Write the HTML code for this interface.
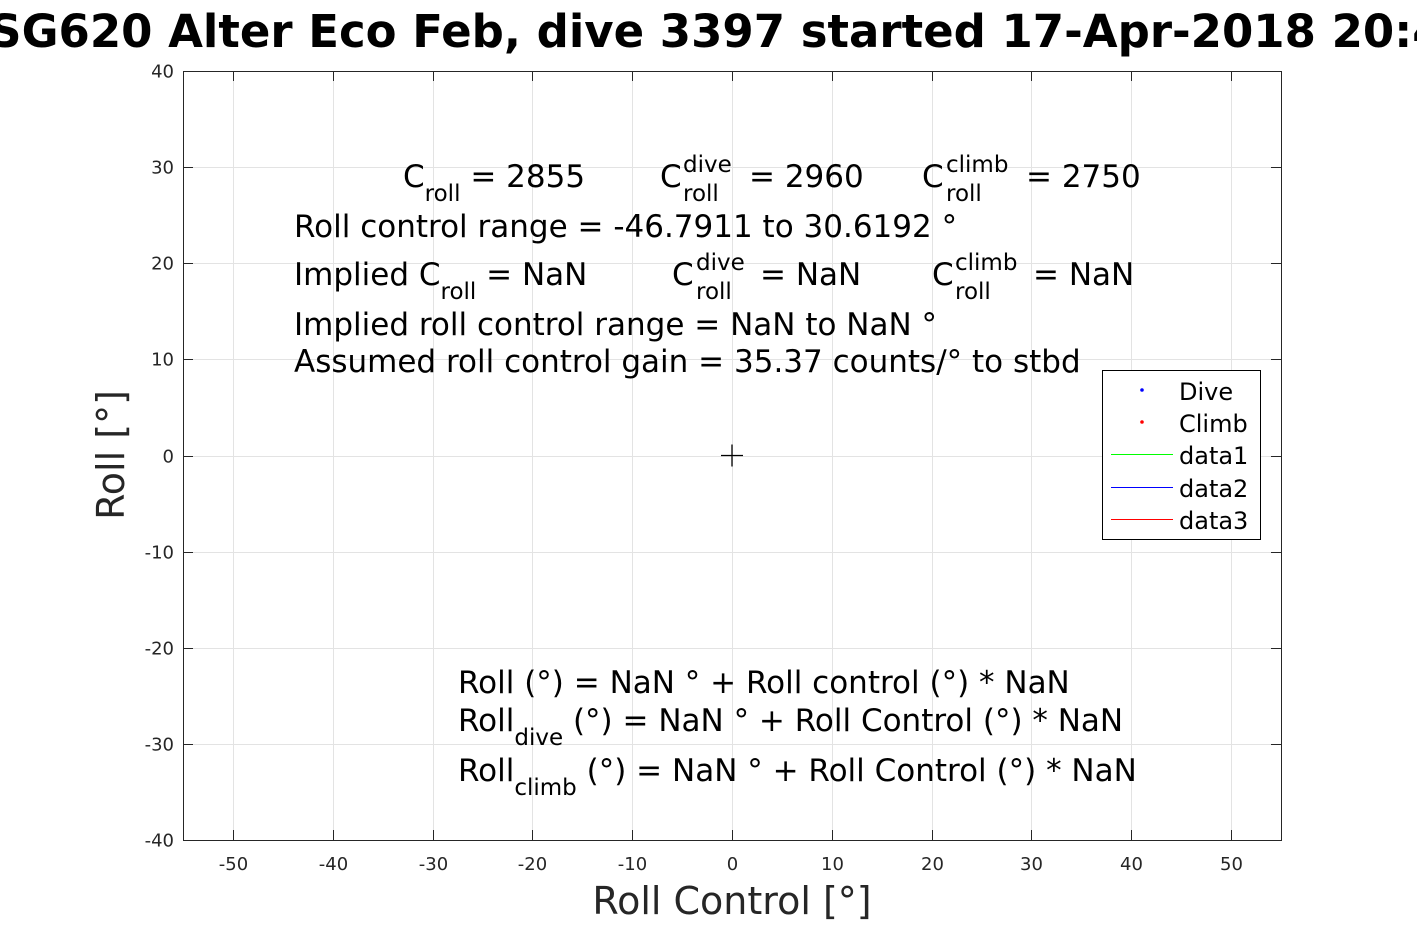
<!DOCTYPE html>
<html><head><meta charset="utf-8"><style>
body{margin:0;background:#fff}
svg{display:block;font-family:"DejaVu Sans","Liberation Sans",sans-serif}
</style></head><body>
<svg id="c" width="1417" height="945" viewBox="0 0 1417 945">
<rect width="1417" height="945" fill="#fff"/>
<g id="grid"></g>
<g id="axes"></g>
<g id="marks"></g>
<text x="732" y="47" text-anchor="middle" font-size="45" font-weight="bold">SG620 Alter Eco Feb, dive 3397 started 17-Apr-2018 20:48</text>
<g font-size="31" fill="#000" xml:space="preserve">
<text x="403" y="187">C<tspan dy="14" font-size="23">roll</tspan><tspan dy="-14"> = 2855</tspan></text>
<text x="660" y="187">C</text><text x="683" y="172" font-size="23">dive</text><text x="683" y="201" font-size="23">roll</text><text x="749" y="187">= 2960</text>
<text x="922" y="187">C</text><text x="946" y="172" font-size="23">climb</text><text x="946" y="201" font-size="23">roll</text><text x="1026" y="187">= 2750</text>
<text x="294" y="237">Roll control range = -46.7911 to 30.6192 °</text>
<text x="294" y="285">Implied C<tspan dy="14" font-size="23">roll</tspan><tspan dy="-14"> =  NaN</tspan></text>
<text x="672" y="285">C</text><text x="696" y="270" font-size="23">dive</text><text x="696" y="299" font-size="23">roll</text><text x="760" y="285">=  NaN</text>
<text x="932" y="285">C</text><text x="955" y="270" font-size="23">climb</text><text x="955" y="299" font-size="23">roll</text><text x="1033" y="285">=  NaN</text>
<text x="294" y="335">Implied roll control range = NaN to NaN °</text>
<text x="294" y="372">Assumed roll control gain = 35.37 counts/° to stbd</text>
<text x="458" y="693">Roll (°) = NaN ° + Roll control (°) * NaN</text>
<text x="458" y="731">Roll<tspan dy="14" font-size="23">dive</tspan><tspan dy="-14"> (°) = NaN ° + Roll Control (°) * NaN</tspan></text>
<text x="458" y="781">Roll<tspan dy="14" font-size="23">climb</tspan><tspan dy="-14"> (°) = NaN ° + Roll Control (°) * NaN</tspan></text>
</g>
<g>
<rect x="1102.5" y="370.5" width="158" height="169" fill="#fff" stroke="#000"/>
<circle cx="1142" cy="390" r="1.8" fill="#00f"/>
<text x="1179" y="400" font-size="24">Dive</text>
<circle cx="1142" cy="422" r="1.8" fill="#f00"/>
<text x="1179" y="432" font-size="24">Climb</text>
<line x1="1111" x2="1173" y1="454.5" y2="454.5" stroke="#0f0"/>
<text x="1179" y="464" font-size="24">data1</text>
<line x1="1111" x2="1173" y1="487.5" y2="487.5" stroke="#00f" stroke-width="1"/>
<text x="1179" y="497" font-size="24">data2</text>
<line x1="1111" x2="1173" y1="519.5" y2="519.5" stroke="#f00" stroke-width="1"/>
<text x="1179" y="529" font-size="24">data3</text>
</g>
<text x="732" y="914" text-anchor="middle" font-size="38" fill="#262626">Roll Control [°]</text>
<text transform="translate(124,455) rotate(-90)" text-anchor="middle" font-size="38" fill="#262626">Roll [°]</text>
</svg>
<script>
const xTicks=[-50,-40,-30,-20,-10,0,10,20,30,40,50];
const yTicks=[-40,-30,-20,-10,0,10,20,30,40];
const diveX=[];const diveY=[];
const climbX=[];const climbY=[];
const centerX=[0];const centerY=[0];
const X0=183,X1=1281,Y0=71,Y1=840,xmin=-55,xmax=55,ymin=-40,ymax=40;
const sx=v=>X0+(v-xmin)/(xmax-xmin)*(X1-X0);
const sy=v=>Y1-(v-ymin)/(ymax-ymin)*(Y1-Y0);
const NS="http://www.w3.org/2000/svg";
const grid=document.getElementById('grid'),axes=document.getElementById('axes'),marks=document.getElementById('marks');
function mk(t,a,p){const e=document.createElementNS(NS,t);for(const k in a)e.setAttribute(k,a[k]);p.appendChild(e);return e;}
xTicks.forEach(v=>{const x=Math.round(sx(v))+0.5;
 const g=mk('line',{x1:x,x2:x,y1:Y0,y2:Y1,stroke:'#e3e3e3'},grid);
 
 
 mk('line',{x1:x,x2:x,y1:Y1,y2:Y1-10,stroke:'#262626'},axes);
 mk('line',{x1:x,x2:x,y1:Y0,y2:Y0+10,stroke:'#262626'},axes);
 const t=mk('text',{x:x,y:Y1+30,'text-anchor':'middle','font-size':18,fill:'#262626'},axes);t.textContent=v;
 
 });
yTicks.forEach(v=>{const y=Math.round(sy(v))+0.5;
 const g=mk('line',{x1:X0,x2:X1,y1:y,y2:y,stroke:'#e3e3e3'},grid);
 
 
 mk('line',{x1:X0,x2:X0+10,y1:y,y2:y,stroke:'#262626'},axes);
 mk('line',{x1:X1,x2:X1-10,y1:y,y2:y,stroke:'#262626'},axes);
 const t=mk('text',{x:X0-9,y:y+6,'text-anchor':'end','font-size':18,fill:'#262626'},axes);t.textContent=v;
 
 });
const box=mk('rect',{x:X0+0.5,y:Y0+0.5,width:X1-X0,height:Y1-Y0,fill:'none',stroke:'#262626'},axes);


diveX.forEach((v,i)=>{const c=mk('circle',{cx:sx(v),cy:sy(diveY[i]),r:1.6,fill:'#00f'},marks);
 
 });
climbX.forEach((v,i)=>{const c=mk('circle',{cx:sx(v),cy:sy(climbY[i]),r:1.6,fill:'#f00'},marks);
 
 });
centerX.forEach((v,i)=>{const x=sx(v),y=sy(centerY[i]);
 const p=mk('path',{d:`M${x-11},${y}H${x+11}M${x},${y-11}V${y+11}`,stroke:'#000','stroke-width':1.3},marks);
 
 });
</script>
</body></html>
